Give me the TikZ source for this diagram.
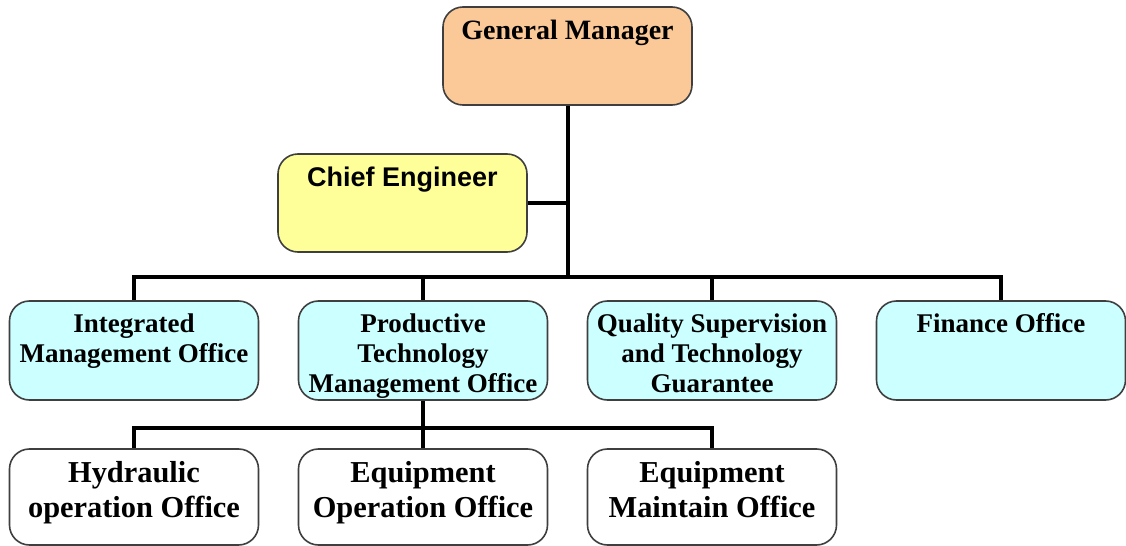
\documentclass[tikz,border=0pt]{standalone}
\usepackage{fontspec}
\setmainfont{Liberation Serif}
\newfontfamily\arialfont{Liberation Sans}
\usetikzlibrary{positioning}
\definecolor{gmorange}{HTML}{FBC998}
\definecolor{ceyellow}{HTML}{FFFF99}
\definecolor{offcyan}{HTML}{CCFFFF}
\definecolor{boxline}{HTML}{3F3F3F}
\tikzset{
  orgbox/.style={draw=boxline, line width=0.8pt, rounded corners=10pt, minimum width=124.5pt, minimum height=49pt, inner sep=0pt},
  boxtext/.style={anchor=north, inner sep=0pt, yshift=-6.5pt, align=center, font=\bfseries\fontsize{13.5}{15}\selectfont},
  bigtext/.style={boxtext, font=\bfseries\fontsize{15.2}{17.5}\selectfont},
  conn/.style={line width=2pt, black}
}

\begin{document}
\begin{tikzpicture}[x=0.5pt,y=-0.5pt]
\useasboundingbox (0,0) rectangle (1126,546);
%\draw[help lines] (0,0) grid[step=50] (1126,546);
\node[orgbox, fill=gmorange, label={[boxtext, font=\bfseries\fontsize{14}{16}\selectfont]north:General Manager}] (gm) at (567.5,56) {};
\node[orgbox, fill=ceyellow, label={[boxtext, font=\arialfont\bfseries\fontsize{13.5}{15}\selectfont]north:Chief Engineer}] (chief) at (402.5,203) {};

\node[orgbox, fill=offcyan, minimum height=49.5pt, label={[boxtext]north:Integrated\\Management Office}] (integ) at (134,350.5) {};
\node[orgbox, fill=offcyan, minimum height=49.5pt, label={[boxtext]north:Productive\\Technology\\Management Office}] (prod) at (423,350.5) {};
\node[orgbox, fill=offcyan, minimum height=49.5pt, label={[boxtext]north:Quality Supervision\\and Technology\\Guarantee}] (qual) at (712,350.5) {};
\node[orgbox, fill=offcyan, minimum height=49.5pt, label={[boxtext]north:Finance Office}] (fin) at (1001,350.5) {};

\node[orgbox, fill=white, minimum height=48pt, label={[bigtext]north:Hydraulic\\operation Office}] (hyd) at (134,497) {};
\node[orgbox, fill=white, minimum height=48pt, label={[bigtext]north:Equipment\\Operation Office}] (eqop) at (423,497) {};
\node[orgbox, fill=white, minimum height=48pt, label={[bigtext]north:Equipment\\Maintain Office}] (eqmt) at (712,497) {};

\coordinate (hub) at (567.5,277);
\coordinate (hub2) at (423,428);
\draw[conn] (gm.south) -- (hub);
\draw[conn] (chief.east) -- (chief.east -| gm.south);
\draw[conn] (integ.north) |- (hub) -| (fin.north);
\draw[conn] (prod.north) -- (prod.north |- hub);
\draw[conn] (qual.north) -- (qual.north |- hub);
\draw[conn] (prod.south) -- (hub2);
\draw[conn] (hyd.north) |- (hub2) -| (eqmt.north);
\draw[conn] (eqop.north) -- (hub2);
\end{tikzpicture}
\end{document}
